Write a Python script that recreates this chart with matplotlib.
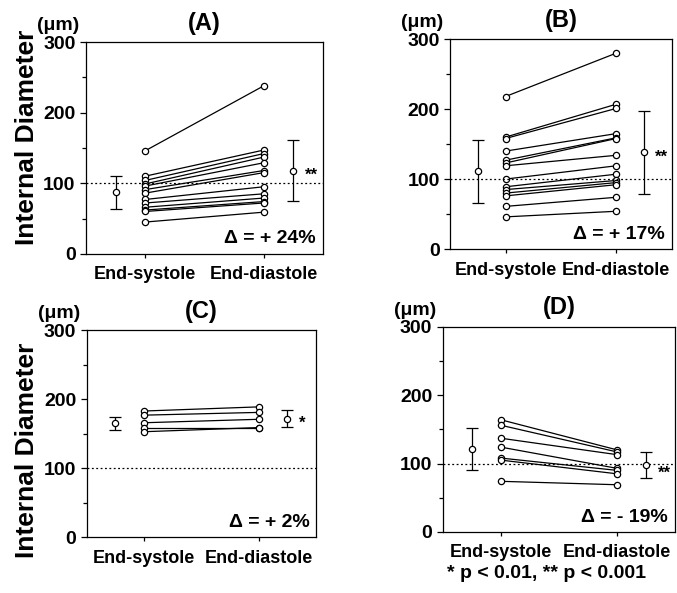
import numpy as np
import matplotlib
matplotlib.use("Agg")
import matplotlib.pyplot as plt
from matplotlib.ticker import MultipleLocator

plt.rcParams['font.family'] = ['Liberation Sans', 'DejaVu Sans']
plt.rcParams['font.weight'] = 'bold'

# Individual vessel diameters (um): end-systole -> end-diastole
a_sys = [146, 110, 104, 99, 96, 91, 86, 77, 72, 66, 62, 60, 45]
a_dia = [238, 147, 142, 137, 129, 118, 115, 95, 85, 79, 74, 72, 59]
b_sys = [218, 160, 158, 140, 127, 123, 119, 100, 89, 85, 80, 76, 61, 46]
b_dia = [280, 207, 201, 165, 159, 158, 134, 119, 107, 98, 95, 92, 74, 54]
c_sys = [183, 177, 166, 159, 153]
c_dia = [189, 181, 171, 159, 159]
d_sys = [164, 156, 137, 124, 108, 105, 74]
d_dia = [120, 117, 113, 93, 90, 85, 69]

# mean +/- SD (systole, diastole)
a_mean = [87, 118]
a_sd = [23, 43]
b_mean = [111, 138]
b_sd = [45, 60]
c_mean = [165, 172]
c_sd = [9, 12]
d_mean = [121, 98]
d_sd = [31, 19]

panels = ['(A)', '(B)', '(C)', '(D)']
deltas = ['\u0394 = + 24%', '\u0394 = + 17%', '\u0394 = + 2%', '\u0394 = - 19%']
stars = ['**', '**', '*', '**']
xlabels = ['End-systole', 'End-diastole']

fig = plt.figure(figsize=(6.77, 5.93), dpi=100)
rects = [
    [0.127, 0.572, 0.350, 0.357],
    [0.665, 0.580, 0.327, 0.354],
    [0.128, 0.094, 0.339, 0.349],
    [0.654, 0.103, 0.343, 0.346],
]
data = [
    (a_sys, a_dia, a_mean, a_sd),
    (b_sys, b_dia, b_mean, b_sd),
    (c_sys, c_dia, c_mean, c_sd),
    (d_sys, d_dia, d_mean, d_sd),
]

for i, (sys_v, dia_v, mean_v, sd_v) in enumerate(data):
    ax = fig.add_axes(rects[i])
    for s, d in zip(sys_v, dia_v):
        ax.plot([0, 1], [s, d], '-o', color='black', lw=0.9, ms=4.5,
                mfc='white', mec='black', mew=0.9)
    ax.errorbar([-0.25, 1.25], mean_v, yerr=sd_v, fmt='o', color='black',
                ms=4.5, mfc='white', mec='black', mew=0.9,
                elinewidth=0.9, capsize=4, capthick=0.9)
    ax.axhline(100, color='black', lw=0.9, ls=(0, (1.5, 2)))
    ax.text(1.35, mean_v[1] - (12 if i == 3 else 7), stars[i], fontsize=12,
            va='center', ha='left')
    ax.text(0.97, 0.03, deltas[i], transform=ax.transAxes, ha='right',
            va='bottom', fontsize=14)
    ax.set_xlim(-0.5, 1.5)
    ax.set_ylim(0, 300)
    ax.set_yticks([0, 100, 200, 300])
    ax.yaxis.set_minor_locator(MultipleLocator(50))
    ax.set_xticks([0, 1])
    ax.set_xticklabels(xlabels)
    ax.tick_params(axis='both', labelsize=13, width=0.9, length=4)
    ax.tick_params(axis='y', labelsize=14)
    ax.tick_params(axis='y', which='minor', width=0.9, length=3)
    ax.tick_params(axis='x', length=3, pad=6)
    for sp in ax.spines.values():
        sp.set_linewidth(0.9)
    ax.set_title(panels[i], fontsize=17, fontweight='bold', pad=9)
    ax.text(-0.03, 1.04, '(\u03bcm)', transform=ax.transAxes, ha='right',
            va='bottom', fontsize=14)

fig.text(0.04, 1 - 137 / 593, 'Internal Diameter', rotation=90,
         ha='center', va='center', fontsize=19, fontweight='bold')
fig.text(0.04, 1 - 450 / 593, 'Internal Diameter', rotation=90,
         ha='center', va='center', fontsize=19, fontweight='bold')
fig.text(0.66, 1 - 573 / 593, '* p < 0.01, ** p < 0.001', ha='left',
         va='center', fontsize=14, fontweight='bold')

fig.savefig('out.png', dpi=100)
